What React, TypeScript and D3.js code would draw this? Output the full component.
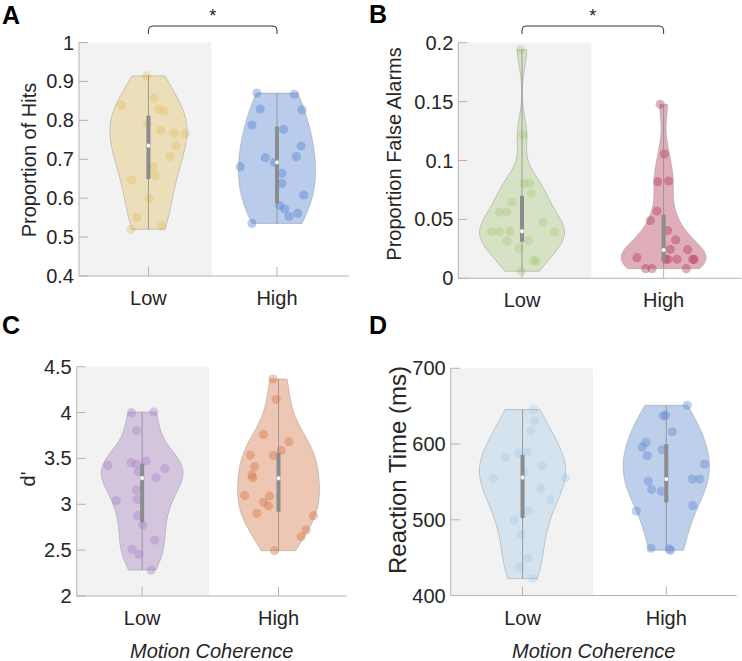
import React from 'react';
import * as d3 from 'd3';

const categories = ['Low', 'High'];

// ---------- Panel A: Proportion of Hits ----------
const hitsLow = [0.914, 0.839, 0.857, 0.829, 0.824, 0.789, 0.774, 0.767, 0.765, 0.735, 0.707, 0.681, 0.658, 0.647, 0.598, 0.55, 0.529, 0.52];
const hitsLowJitter = [-0.013, -0.208, 0.044, 0.078, 0.122, -0.008, 0.096, 0.2, 0.286, 0.213, 0.169, 0.039, 0.052, -0.13, 0.005, -0.091, 0.104, -0.135];
const hitsHigh = [0.87, 0.867, 0.829, 0.827, 0.788, 0.777, 0.734, 0.704, 0.707, 0.681, 0.692, 0.664, 0.638, 0.608, 0.581, 0.572, 0.561, 0.553, 0.535];
const hitsHighJitter = [-0.156, 0.135, -0.13, 0.195, -0.195, 0.052, 0.187, -0.091, 0.151, -0.286, -0.02, 0.039, 0.039, 0.208, 0.021, 0.06, 0.161, 0.094, -0.195];
const hitsStats = [[0.649, 0.735, 0.812], [0.587, 0.692, 0.784]]; // q1, median, q3
const hitsTicks = [0.4, 0.5, 0.6, 0.7, 0.8, 0.9, 1];

// ---------- Panel B: Proportion False Alarms ----------
const faLow = [0.194, 0.1216, 0.0806, 0.0806, 0.072, 0.0645, 0.056, 0.0563, 0.0475, 0.0396, 0.0396, 0.04, 0.0396, 0.0317, 0.032, 0.0255, 0.0147, 0.015, 0.006];
const faLowJitter = [-0.012, 0.007, 0.016, 0.054, 0.066, -0.071, -0.16, -0.106, 0.148, -0.212, -0.16, -0.087, 0.231, -0.104, 0.047, -0.021, 0.082, 0.1, -0.007];
const faHigh = [0.1477, 0.1055, 0.082, 0.0826, 0.0571, 0.049, 0.0405, 0.0325, 0.0243, 0.0246, 0.0175, 0.0161, 0.0161, 0.0161, 0.0161, 0.016, 0.0082, 0.0082, 0.0082];
const faHighJitter = [-0.024, 0.005, -0.042, 0.035, -0.047, -0.094, 0.028, 0.085, 0.17, 0.047, -0.188, 0.014, 0.031, 0.094, 0.205, 0.216, -0.127, -0.082, 0.16];
const faStats = [[0.031, 0.04, 0.07], [0.0156, 0.024, 0.054]];
const faTicks = [0, 0.05, 0.1, 0.15, 0.2];

// ---------- Panel C: d' ----------
const dpLow = [3.999, 4.006, 3.802, 3.424, 3.453, 3.439, 3.472, 3.355, 3.388, 3.29, 3.156, 3.054, 3.039, 2.876, 2.774, 2.61, 2.509, 2.454, 2.283];
const dpLowJitter = [-0.078, 0.085, -0.041, -0.251, -0.081, -0.041, 0.029, -0.029, 0.166, 0.102, -0.041, -0.037, -0.19, -0.034, 0.005, 0.093, -0.073, -0.024, 0.066];
const dpHigh = [4.366, 4.144, 3.762, 3.682, 3.588, 3.537, 3.53, 3.41, 3.319, 3.29, 3.094, 3.09, 3.021, 2.981, 2.901, 2.876, 2.72, 2.647, 2.494];
const dpHighJitter = [-0.041, -0.017, -0.11, 0.076, 0.02, -0.207, -0.037, -0.176, -0.195, -0.19, -0.249, -0.066, -0.11, -0.073, -0.159, 0.256, 0.203, 0.166, -0.029];
const dpStats = [[2.803, 3.286, 3.443], [2.919, 3.283, 3.563]];
const dpTicks = [2, 2.5, 3, 3.5, 4, 4.5];

// ---------- Panel D: Reaction Time ----------
const rtLow = [645.5, 630.6, 617.4, 582.3, 588.0, 589.8, 571.3, 554.6, 555.5, 562.5, 541.0, 526.5, 512.0, 499.3, 480.4, 449.6, 437.8, 422.3];
const rtLowJitter = [0.077, 0.084, 0.058, -0.121, -0.028, 0.03, 0.135, -0.202, 0.298, 0.012, 0.128, 0.193, 0.04, -0.058, -0.012, 0.035, -0.021, 0.072];
const rtHigh = [651.2, 637.2, 638.1, 616.1, 602.0, 595.9, 584.5, 592.4, 573.5, 551.1, 553.7, 553.7, 540.1, 537.5, 511.6, 518.6, 462.4, 461.5, 459.7];
const rtHighJitter = [0.146, -0.021, -0.005, 0.042, -0.142, -0.167, -0.132, -0.028, 0.267, -0.126, 0.181, 0.232, -0.102, -0.035, -0.209, 0.184, -0.107, 0.021, 0.03];
const rtStats = [[502.3, 555.9, 585.8], [523, 553.7, 599.8]];
const rtTicks = [400, 500, 600, 700];

const FONT = '"Liberation Sans", Arial, Helvetica, sans-serif';
const AXIS = '#b3b3b3';
const TEXT = '#262626';

type Panel = {
  letter: string;
  ylabel: string;
  ylabelSize: number;
  ylabelX: number;
  ylabelY: number;
  left: number; right: number; top: number; bottom: number;
  xlim: [number, number];
  ylim: [number, number];
  ticks: number[];
  groups: { values: number[]; jitter: number[]; stats: number[]; color: string }[];
  letterX: number; letterY: number;
  sig: boolean;
  xlabel: boolean;
};

const panels: Panel[] = [
  {
    letter: 'A', ylabel: 'Proportion of Hits', ylabelSize: 20, ylabelX: 36, ylabelY: 160,
    left: 79, right: 349, top: 42.5, bottom: 276, xlim: [0.46, 2.56], ylim: [0.4, 1], ticks: hitsTicks,
    groups: [
      { values: hitsLow, jitter: hitsLowJitter, stats: hitsStats[0], color: '#E3C061' },
      { values: hitsHigh, jitter: hitsHighJitter, stats: hitsStats[1], color: '#507FCD' },
    ],
    letterX: 2, letterY: 24, sig: true, xlabel: false,
  },
  {
    letter: 'B', ylabel: 'Proportion False Alarms', ylabelSize: 20, ylabelX: 401, ylabelY: 154,
    left: 458.3, right: 741.5, top: 42.7, bottom: 278.3, xlim: [0.55, 2.55], ylim: [0, 0.2], ticks: faTicks,
    groups: [
      { values: faLow, jitter: faLowJitter, stats: faStats[0], color: '#ACCA7F' },
      { values: faHigh, jitter: faHighJitter, stats: faStats[1], color: '#B13455' },
    ],
    letterX: 369, letterY: 23, sig: true, xlabel: false,
  },
  {
    letter: 'C', ylabel: "d'", ylabelSize: 20, ylabelX: 35, ylabelY: 479,
    left: 76.7, right: 346.7, top: 366.7, bottom: 596, xlim: [0.52, 2.5], ylim: [2, 4.5], ticks: dpTicks,
    groups: [
      { values: dpLow, jitter: dpLowJitter, stats: dpStats[0], color: '#A781C2' },
      { values: dpHigh, jitter: dpHighJitter, stats: dpStats[1], color: '#D47343' },
    ],
    letterX: 2, letterY: 334, sig: false, xlabel: true,
  },
  {
    letter: 'D', ylabel: 'Reaction Time (ms)', ylabelSize: 24, ylabelX: 406, ylabelY: 470,
    left: 450.7, right: 736.7, top: 368.3, bottom: 595.5, xlim: [0.5, 2.49], ylim: [400, 700], ticks: rtTicks,
    groups: [
      { values: rtLow, jitter: rtLowJitter, stats: rtStats[0], color: '#AACCE8' },
      { values: rtHigh, jitter: rtHighJitter, stats: rtStats[1], color: '#5C87CF' },
    ],
    letterX: 369, letterY: 334, sig: false, xlabel: true,
  },
];

const VIOLIN_WIDTH = 0.3;

function kde(values: number[]) {
  const n = values.length;
  const med = d3.median(values) as number;
  const mad = d3.median(values.map((v) => Math.abs(v - med))) as number;
  const lo = d3.min(values) as number;
  const hi = d3.max(values) as number;
  let sig = mad / 0.6745;
  if (sig <= 0) sig = hi - lo;
  const bw = sig * Math.pow(4 / (3 * n), 0.2);
  const grid = d3.range(120).map((i) => lo + ((hi - lo) * i) / 119);
  const dens = grid.map((g) => d3.sum(values, (v) => Math.exp(-0.5 * ((g - v) / bw) ** 2)));
  const m = d3.max(dens) as number;
  return grid.map((g, i) => ({ v: g, d: dens[i] / m }));
}

function fmt(v: number) {
  return String(+v.toFixed(4));
}

function PanelView({ p }: { p: Panel }) {
  const x = d3.scaleLinear().domain(p.xlim).range([p.left, p.right]);
  const y = d3.scaleLinear().domain(p.ylim).range([p.bottom, p.top]);
  const tickLen = 9;
  const midX = (p.left + p.right) / 2;
  return (
    <g>
      <rect x={x(p.xlim[0])} y={y(p.ylim[1])} width={x(1.49) - x(p.xlim[0])} height={y(p.ylim[0]) - y(p.ylim[1])} fill="#f2f2f2" />
      {p.groups.map((g, gi) => {
        const pos = gi + 1;
        const dens = kde(g.values);
        const area = d3
          .area<{ v: number; d: number }>()
          .x0((d) => x(pos - d.d * VIOLIN_WIDTH))
          .x1((d) => x(pos + d.d * VIOLIN_WIDTH))
          .y((d) => y(d.v));
        const lo = d3.min(g.values) as number;
        const hi = d3.max(g.values) as number;
        return (
          <g key={gi}>
            {g.values.map((v, i) => (
              <circle key={i} cx={x(pos + g.jitter[i])} cy={y(v)} r={4.6} fill={g.color} fillOpacity={0.4} />
            ))}
            <path d={area(dens) || ''} fill={g.color} fillOpacity={0.4} stroke="#8f8f8f" strokeOpacity={0.55} strokeWidth={0.8} />
            <line x1={x(pos)} x2={x(pos)} y1={y(lo)} y2={y(hi)} stroke="#8a8a8a" strokeWidth={0.8} />
            <rect x={x(pos) - 2} width={4} y={y(g.stats[2])} height={y(g.stats[0]) - y(g.stats[2])} fill="#8c8c8c" />
            <circle cx={x(pos)} cy={y(g.stats[1])} r={2.2} fill="#ffffff" stroke="#9a9a9a" strokeWidth={0.5} />
          </g>
        );
      })}
      {/* axes */}
      <line x1={p.left} x2={p.left} y1={p.top} y2={p.bottom} stroke={AXIS} strokeWidth={1} />
      <line x1={p.left} x2={p.right} y1={p.bottom} y2={p.bottom} stroke={AXIS} strokeWidth={1} />
      {p.ticks.map((t) => (
        <g key={t}>
          <line x1={p.left} x2={p.left + tickLen} y1={y(t)} y2={y(t)} stroke={AXIS} strokeWidth={1} />
          <text x={p.left - 5} y={y(t)} textAnchor="end" dominantBaseline="central" fontSize={20} fill={TEXT} fontFamily={FONT}>
            {fmt(t)}
          </text>
        </g>
      ))}
      {categories.map((c, i) => (
        <g key={c}>
          <line x1={x(i + 1)} x2={x(i + 1)} y1={p.bottom} y2={p.bottom - tickLen} stroke={AXIS} strokeWidth={1} />
          <text x={x(i + 1)} y={p.bottom + 29} textAnchor="middle" fontSize={20} fill={TEXT} fontFamily={FONT}>
            {c}
          </text>
        </g>
      ))}
      <text
        transform={`translate(${p.ylabelX},${p.ylabelY}) rotate(-90)`}
        textAnchor="middle"
        fontSize={p.ylabelSize}
        fill={TEXT}
        fontFamily={FONT}
      >
        {p.ylabel}
      </text>
      <text x={p.letterX} y={p.letterY} fontSize={25} fontWeight="bold" fill="#000" fontFamily={FONT}>
        {p.letter}
      </text>
      {p.sig && (
        <g>
          <path
            d={`M${x(1)},34 L${x(1)},30 Q${x(1)},26 ${x(1) + 4},26 L${x(2) - 4},26 Q${x(2)},26 ${x(2)},30 L${x(2)},34`}
            fill="none"
            stroke="#333"
            strokeWidth={1}
          />
          <text x={(x(1) + x(2)) / 2} y={22} textAnchor="middle" fontSize={18} fill="#222" fontFamily={FONT}>
            *
          </text>
        </g>
      )}
      {p.xlabel && (
        <text x={midX} y={658} textAnchor="middle" fontSize={20} fontStyle="italic" fill={TEXT} fontFamily={FONT}>
          Motion Coherence
        </text>
      )}
    </g>
  );
}

export default function App() {
  return (
    <svg width={742} height={661} style={{ position: 'absolute', left: 0, top: 0, background: '#fff' }}>
      {panels.map((p) => (
        <PanelView key={p.letter} p={p} />
      ))}
    </svg>
  );
}
